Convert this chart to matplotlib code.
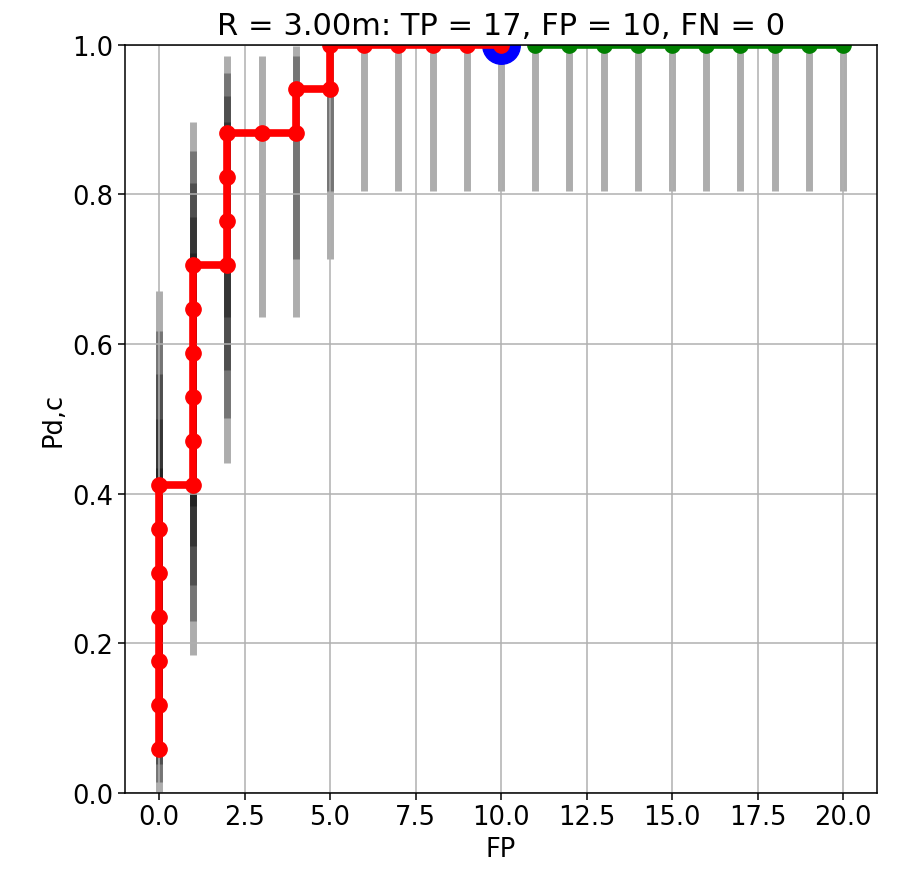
import numpy as np
import matplotlib
matplotlib.use("Agg")
import matplotlib.pyplot as plt
from matplotlib.patches import Rectangle

radius = 3.00
n_targets = 17
n_fp = 10
n_fn = 0

# detections sorted by score: false-positive count and true-positive count after each one
fp_red = [0, 0, 0, 0, 0, 0, 0,
          1, 1, 1, 1, 1, 1,
          2, 2, 2, 2,
          3,
          4, 4,
          5, 5,
          6, 7, 8, 9, 10]
tp_red = [1, 2, 3, 4, 5, 6, 7,
          7, 8, 9, 10, 11, 12,
          12, 13, 14, 15,
          15,
          15, 16,
          16, 17,
          17, 17, 17, 17, 17]

# points past the operating threshold
fp_green = [11, 12, 13, 14, 15, 16, 17, 18, 19, 20]
tp_green = [17, 17, 17, 17, 17, 17, 17, 17, 17, 17]

# 95% Clopper-Pearson bounds for k = 0..17 detections out of 17
ci_lo = [0.0, 0.0015, 0.0146, 0.0380, 0.0681, 0.1031, 0.1421, 0.1844, 0.2297,
         0.2781, 0.3292, 0.3833, 0.4404, 0.5010, 0.5657, 0.6356, 0.7131, 0.8049]
ci_hi = [0.1951, 0.2869, 0.3644, 0.4343, 0.4990, 0.5596, 0.6167, 0.6708, 0.7219,
         0.7703, 0.8156, 0.8579, 0.8969, 0.9319, 0.9620, 0.9854, 0.9985, 1.0]

fs = 18.5

fig = plt.figure(figsize=(9.11, 8.79), dpi=100)
ax = fig.add_axes([0.137, 0.097, 0.826, 0.851])

fp_all = fp_red + fp_green
tp_all = tp_red + tp_green
ax.vlines(fp_all, [ci_lo[k] for k in tp_all], [ci_hi[k] for k in tp_all],
          colors="k", alpha=0.32, linewidth=5, zorder=1)

pd_red = np.array(tp_red) / n_targets
pd_green = np.array(tp_green) / n_targets

# operating point
ax.plot([n_fp], [(n_targets - n_fn) / n_targets], "o", color="blue",
        markersize=27, zorder=3)
ax.plot(fp_red, pd_red, "-o", color="red", linewidth=5.5, markersize=11, zorder=4)
ax.plot(fp_green, pd_green, "-o", color="green", linewidth=5.5, markersize=11,
        zorder=4)

# mask whatever pokes out above the top of the frame
ax.add_patch(Rectangle((0, 1), 1, 0.04, transform=ax.transAxes, facecolor="white",
                       edgecolor="none", clip_on=False, zorder=4.5))

ax.set_xlim(-1, 21)
ax.set_ylim(0, 1)
ax.set_xticks(np.arange(0, 20.1, 2.5))
ax.set_yticks(np.arange(0, 1.01, 0.2))
ax.grid(True, color="#b0b0b0", linewidth=1.1)
ax.tick_params(labelsize=fs, length=4.7, width=1.1)
for s in ax.spines.values():
    s.set_linewidth(1.1)
    s.set_zorder(5)

ax.set_xlabel("FP", fontsize=fs)
ax.set_ylabel("Pd,c", fontsize=fs)
title = ax.set_title(f"R = {radius:.2f}m: TP = {n_targets - n_fn}, FP = {n_fp}, FN = {n_fn}",
                     fontsize=22, pad=8)
title.set_zorder(6)

fig.savefig("out.png", dpi=100)
